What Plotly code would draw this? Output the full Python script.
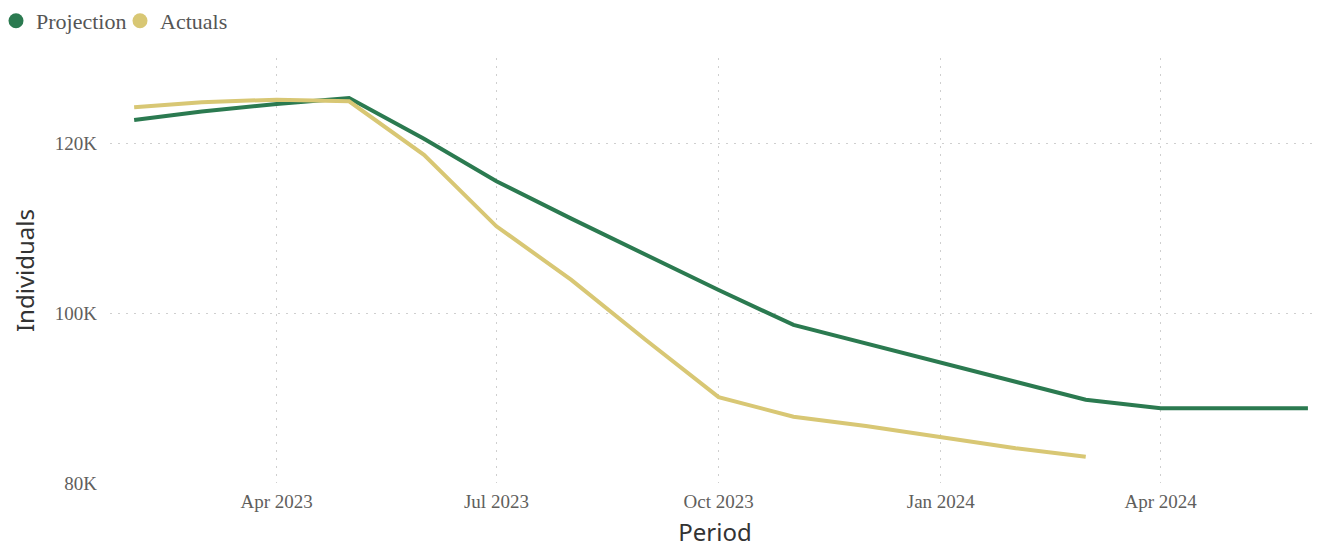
import plotly.graph_objects as go

months = ["2023-02-01", "2023-03-01", "2023-04-01", "2023-05-01", "2023-06-01", "2023-07-01",
          "2023-08-01", "2023-09-01", "2023-10-01", "2023-11-01", "2023-12-01", "2024-01-01",
          "2024-02-01", "2024-03-01", "2024-04-01", "2024-05-01", "2024-06-01"]

projection = [122700, 123700, 124600, 125300, 120500, 115500, 111100, 106800, 102700,
              98600, 96400, 94100, 91900, 89800, 88800, 88800, 88800]

actuals = [124200, 124800, 125100, 124900, 118600, 110200, 103900, 96800, 90100,
           87800, 86700, 85400, 84100, 83100]

y_tickvals = [80000, 100000, 120000]
y_ticktext = ["80K", "100K", "120K"]

green = "#2B7A50"
gold = "#D8C774"
serif = "Liberation Serif"
sans = "Noto Sans"

W, H = 1314, 540
L, R, T, B = 102, 2, 50, 65
PW, PH = W - L - R, H - T - B

fig = go.Figure()
fig.add_trace(go.Scatter(x=months, y=projection, mode="lines", name="Projection",
                         line=dict(color=green, width=4), showlegend=False))
fig.add_trace(go.Scatter(x=months[:len(actuals)], y=actuals, mode="lines", name="Actuals",
                         line=dict(color=gold, width=4), showlegend=False))
# legend markers
fig.add_trace(go.Scatter(x=[None], y=[None], mode="markers", name="Projection",
                         marker=dict(color=green, size=15)))
fig.add_trace(go.Scatter(x=[None], y=[None], mode="markers", name="Actuals",
                         marker=dict(color=gold, size=15)))

fig.update_layout(
    width=W, height=H,
    margin=dict(l=L, r=R, t=T, b=B, autoexpand=False),
    paper_bgcolor="white", plot_bgcolor="white",
    legend=dict(orientation="h", x=(-12 - L) / PW, xref="paper", xanchor="left",
                y=1 + (T - 13) / PH, yref="paper", yanchor="middle",
                font=dict(family=serif, size=22, color="#555555"),
                itemwidth=30, entrywidth=79, entrywidthmode="pixels",
                tracegroupgap=0, bgcolor="rgba(0,0,0,0)"),
    xaxis=dict(type="date", range=["2023-01-22", "2024-06-06"],
               dtick="M3", tick0="2023-01-01", tickformat="%b %Y",
               showgrid=True, gridcolor="#CFCFCF", gridwidth=1, griddash="2px,6px",
               zeroline=False, showline=False, ticks="", automargin=True,
               ticklabelstandoff=5,
               tickfont=dict(family=serif, size=19, color="#605E5C"),
               title=dict(text="Period", font=dict(family=sans, size=24, color="#333333"),
                          standoff=14)),
    yaxis=dict(range=[80000, 130000], tickvals=y_tickvals, ticktext=y_ticktext,
               showgrid=True, gridcolor="#CFCFCF", gridwidth=1, griddash="2px,6px",
               zeroline=False, showline=False, ticks="", automargin=True,
               ticklabelstandoff=12,
               tickfont=dict(family=serif, size=19, color="#605E5C"),
               title=dict(text="Individuals", font=dict(family=sans, size=24, color="#333333"),
                          standoff=18)),
    hovermode="x unified",
)

fig.write_html("out.html")
